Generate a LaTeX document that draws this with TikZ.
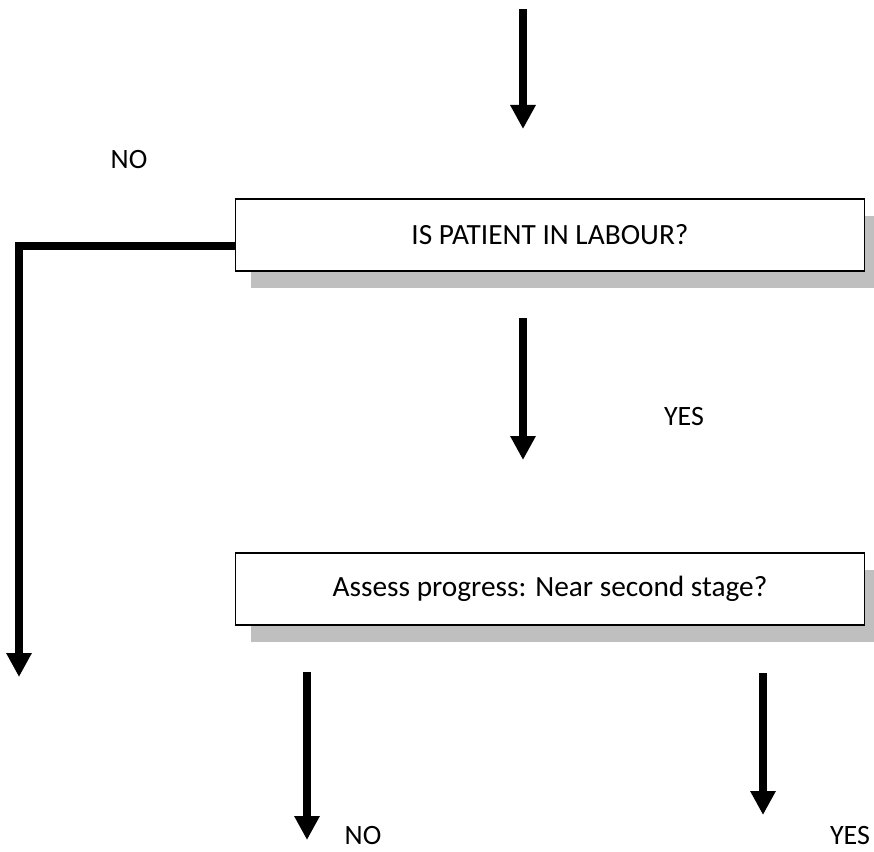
\documentclass[tikz,border=0pt]{standalone}
\usepackage{fontspec}
\setmainfont{Carlito}
\usetikzlibrary{arrows.meta, shadows}
\definecolor{shadowgrey}{HTML}{BFBFBF}

\begin{document}
\begin{tikzpicture}[x=0.75pt, y=-0.75pt]
\tikzstyle{question}=[rectangle, draw, fill=white, line width=1.2pt, minimum width=472pt, minimum height=54pt, inner sep=0pt, font=\fontsize{22}{26}\selectfont, drop shadow={shadow xshift=11.5pt, shadow yshift=-12.5pt, fill=shadowgrey, opacity=1}]
\tikzstyle{flow}=[line width=5.5pt, -{Triangle[width=18pt, length=18pt]}]
\tikzstyle{answer}=[font=\fontsize{21}{25}\selectfont]
\useasboundingbox (0,0) rectangle (874,852);

\node[question] (labour) at (550,235) {IS PATIENT IN LABOUR?};
\node[question] (progress) at (550,589) {Assess progress: Near second stage?};

\node[answer] (nolabour) at (129,160) {NO};
\node[answer] (yeslabour) at (684,417) {YES};
\node[answer] (nosecond) at (363,836) {NO};
\node[answer] (yessecond) at (850,836) {YES};

\coordinate (in0) at (523,9);
\coordinate (in1) at (523,129);
\coordinate (yes0) at (523,318);
\coordinate (yes1) at (523,460);
\coordinate (nobend) at (19,246);
\coordinate (noend) at (19,677);
\coordinate (ns0) at (307,672);
\coordinate (ns1) at (307,840);
\coordinate (ys0) at (763,673);
\coordinate (ys1) at (763,815);

\draw[flow] (in0) -- (in1);
\draw[flow] (yes0) -- (yes1);
\draw[flow] (labour.west |- nobend) -- (nobend) -- (noend);
\draw[flow] (ns0) -- (ns1);
\draw[flow] (ys0) -- (ys1);

\end{tikzpicture}
\end{document}
